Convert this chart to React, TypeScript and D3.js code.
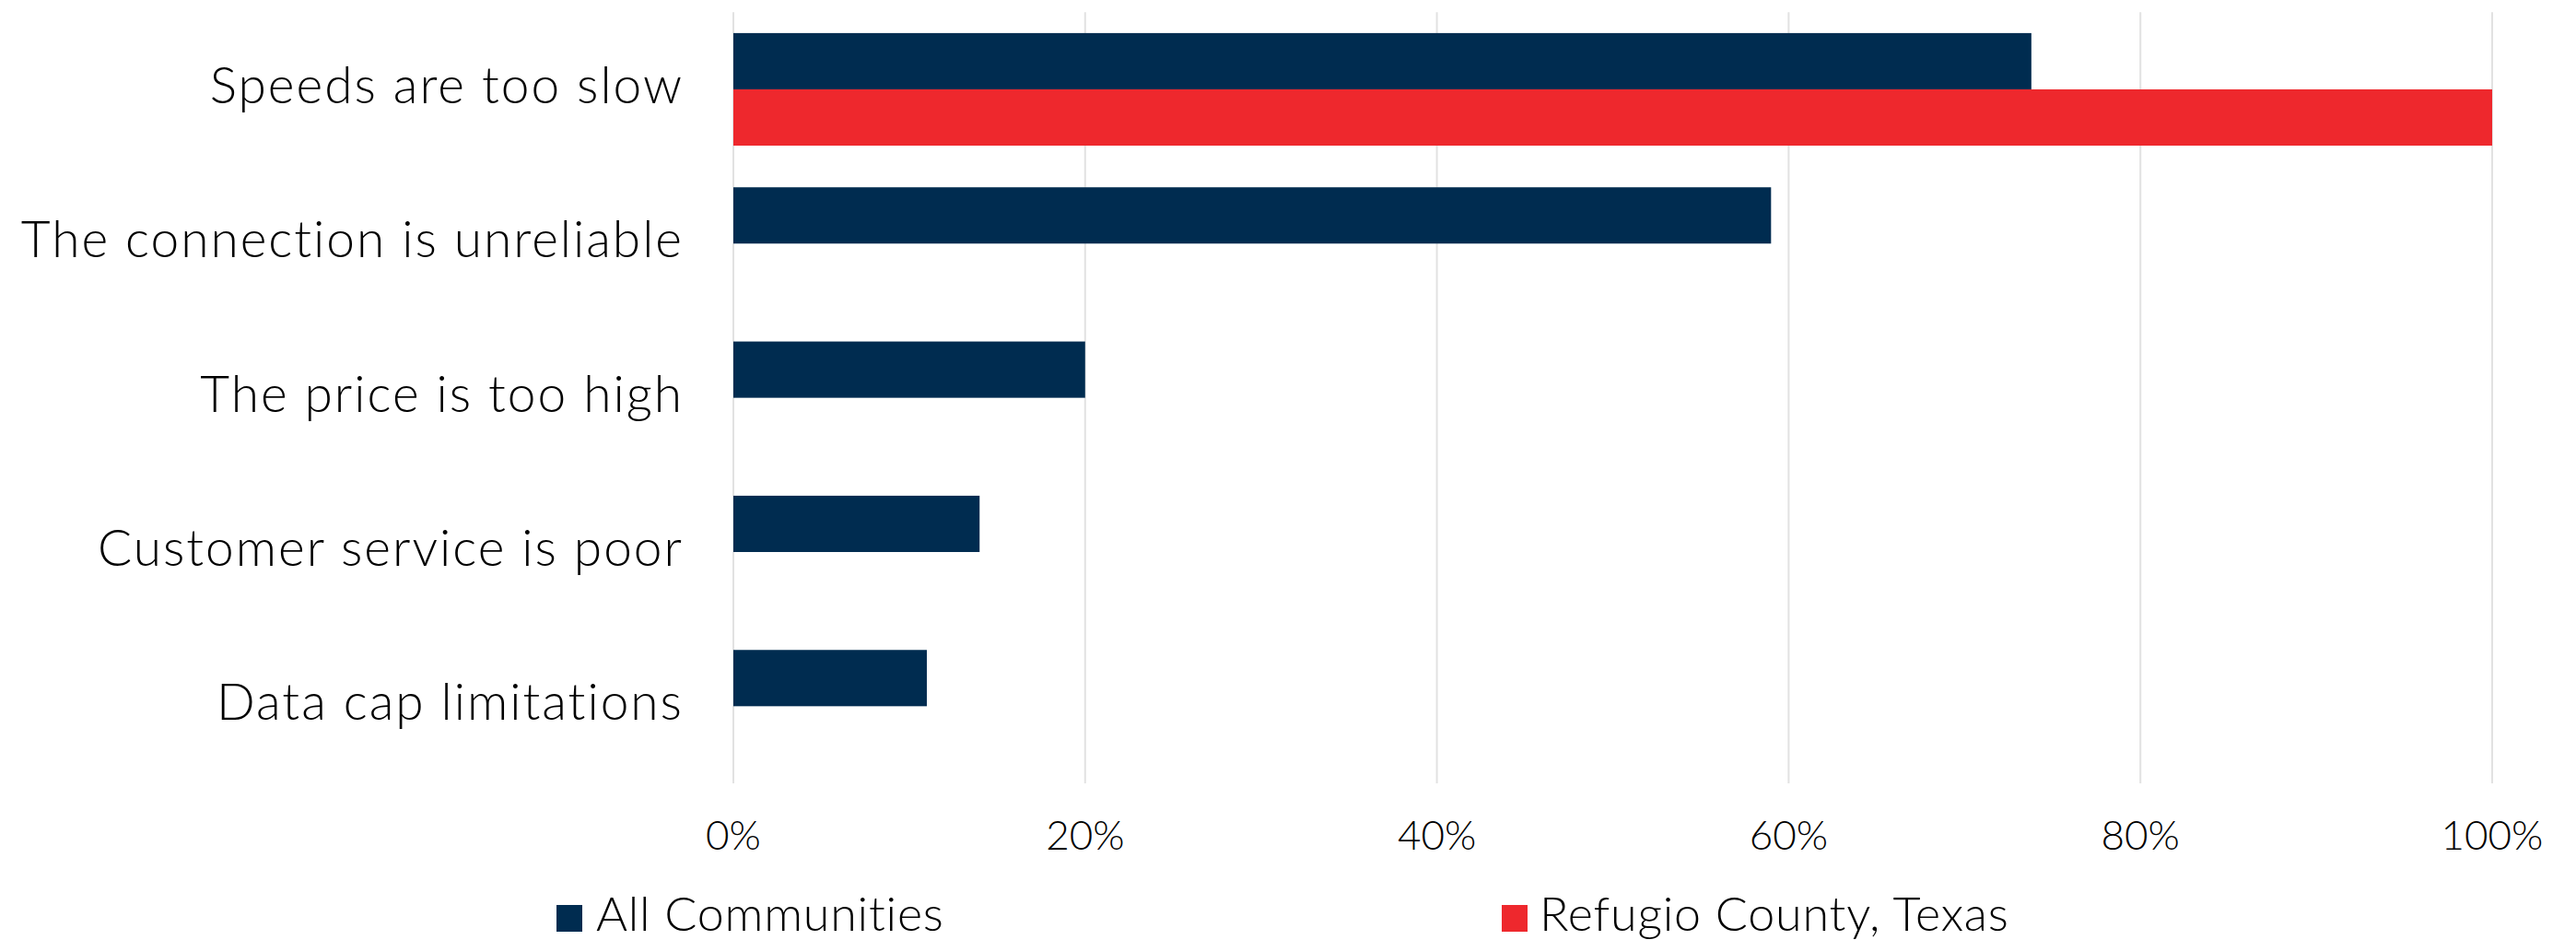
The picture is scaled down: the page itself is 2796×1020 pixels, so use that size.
import React from "react";
import * as d3 from "d3";

const categories = [
  "Speeds are too slow",
  "The connection is unreliable",
  "The price is too high",
  "Customer service is poor",
  "Data cap limitations",
];
const seriesNames = ["All Communities", "Refugio County, Texas"];
const allCommunities = [0.738, 0.59, 0.2, 0.14, 0.11];
const refugioCounty = [1.0, 0, 0, 0, 0];
const xTicks = [0, 0.2, 0.4, 0.6, 0.8, 1.0];
const colors = ["#002C50", "#EE282D"];

const W = 2796;
const H = 1020;
const FONT = "Lato, 'Open Sans', sans-serif";

export default function App() {
  const x = d3.scaleLinear().domain([0, 1]).range([796, 2705]);
  const y = d3
    .scaleBand<string>()
    .domain(categories)
    .range([13.3, 850])
    .paddingInner(0.27)
    .paddingOuter(0.135);
  const sub = d3
    .scaleBand<string>()
    .domain(seriesNames)
    .range([0, y.bandwidth()]);
  const series = [allCommunities, refugioCounty];
  const fmt = d3.format(".0%");

  return (
    <svg
      width={W}
      height={H}
      style={{ position: "absolute", left: 0, top: 0, background: "#fff" }}
    >
      {xTicks.map((t) => (
        <line
          key={"g" + t}
          x1={x(t)}
          x2={x(t)}
          y1={13.3}
          y2={850}
          stroke="#E2E2E2"
          strokeWidth={2}
        />
      ))}
      {categories.map((c, i) =>
        series.map((s, k) =>
          s[i] > 0 ? (
            <rect
              key={c + k}
              x={x(0)}
              y={(y(c) as number) + (sub(seriesNames[k]) as number)}
              width={x(s[i]) - x(0)}
              height={sub.bandwidth()}
              fill={colors[k]}
            />
          ) : null
        )
      )}
      {categories.map((c) => (
        <text
          key={"l" + c}
          x={742}
          y={(y(c) as number) + y.bandwidth() / 2 + 15}
          textAnchor="end"
          fontFamily={FONT}
          fontWeight={300}
          fontSize={55}
          letterSpacing={2}
          fill="#000"
        >
          {c}
        </text>
      ))}
      {xTicks.map((t) => (
        <text
          key={"t" + t}
          x={x(t)}
          y={922}
          textAnchor="middle"
          fontFamily={FONT}
          fontWeight={300}
          fontSize={44}
          fill="#000"
        >
          {fmt(t)}
        </text>
      ))}
      {[
        { name: seriesNames[0], sx: 604, tx: 647, color: colors[0] },
        { name: seriesNames[1], sx: 1630, tx: 1671, color: colors[1] },
      ].map((l) => (
        <g key={l.name}>
          <rect x={l.sx} y={982} width={28} height={29} fill={l.color} />
          <text
            x={l.tx}
            y={1010}
            fontFamily={FONT}
            fontWeight={300}
            fontSize={52}
            letterSpacing={0.8}
            style={{ fontVariantLigatures: "none" }}
            fill="#000"
          >
            {l.name}
          </text>
        </g>
      ))}
    </svg>
  );
}
